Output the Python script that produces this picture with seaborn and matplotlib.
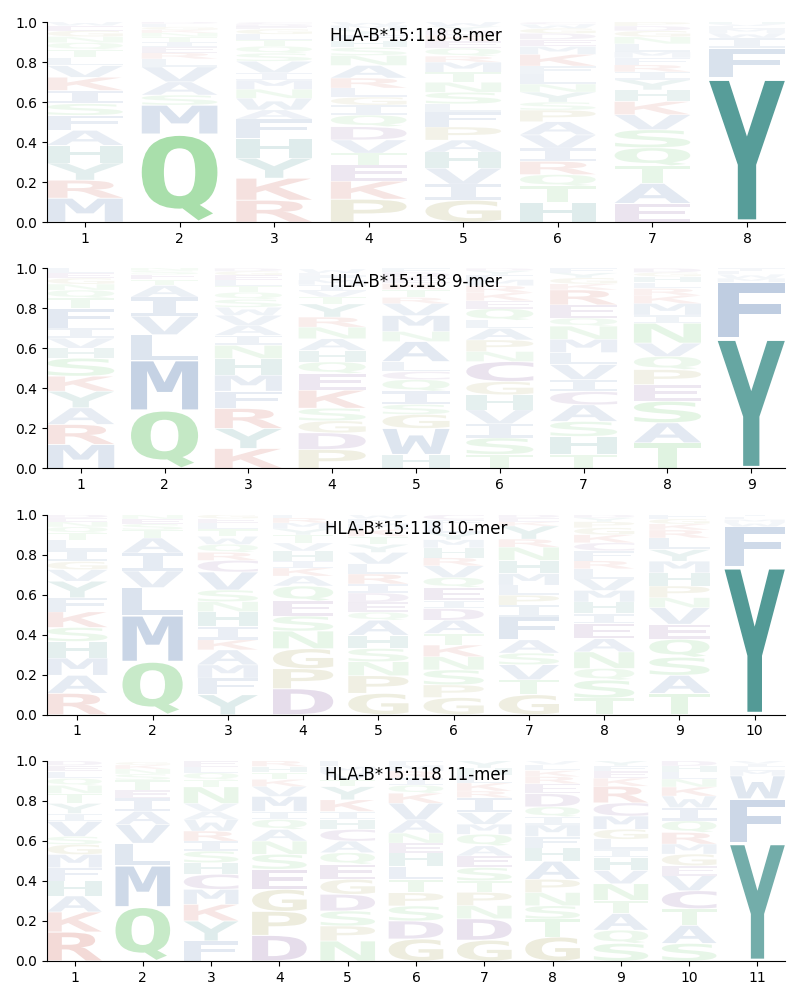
import numpy as np
import matplotlib
matplotlib.use("Agg")
import matplotlib.pyplot as plt
import seaborn as sns
from matplotlib.textpath import TextPath
from matplotlib.patches import PathPatch
from matplotlib.font_manager import FontProperties
from matplotlib.transforms import Affine2D

allele = "HLA-B*15:118"
lengths = [8, 9, 10, 11]

# letters listed bottom -> top for each position, heights in percent
letters_8 = ["MRYHAFSIKVLTQNGEW", "QMSAVLREITNKGFD", "RKYHFAWNMIVSQTLGEDC",
             "PKETVDQIGLRANSHFYMW", "GIVHAPFLSNTMRQEKDYW", "HTQRIVAPSYNLFKMEDGWC",
             "EATQSVKHYIRFMLNGDP", "YFIWMLVH"]
heights_8 = [[12, 9, 8.6, 8.8, 7.5, 7.5, 5.8, 6.6, 6.6, 5.8, 4, 4, 3.5, 3, 3, 2.5, 1.8],
             [44, 14.5, 5, 6.6, 7.5, 4, 3, 3, 2.5, 2.5, 2, 1.5, 1.5, 1.5, 1],
             [11, 11, 10, 10, 9.5, 4.6, 5.8, 4.5, 4.6, 3.6, 5.8, 4, 3.5, 3, 3, 2.5, 1.5, 1, 1],
             [11.5, 9, 8, 6, 6.6, 6.6, 5.8, 5, 4, 4.5, 5, 6.3, 5, 4, 3.5, 3, 2.5, 2, 1.7],
             [11, 8, 8, 8, 6, 6.6, 7.5, 4, 5.8, 5, 5, 5, 3, 4, 3.5, 3, 2.5, 2, 2.1],
             [10, 8, 5.8, 6.6, 6.6, 6.6, 6.6, 5.8, 4, 5, 4, 5, 4, 5.8, 4, 3.5, 3, 2.5, 2, 1.2],
             [9.4, 10, 8.8, 9, 9, 7.5, 6.6, 5.8, 5, 4, 3.5, 3.5, 3, 4, 3.5, 3, 2.4, 2],
             [72, 15, 5, 2.5, 2, 1.5, 1, 1]]

letters_9 = ["MRAYKSHVIFTQNGEL", "QMLVIATESN", "KYRFMHNIAVWSQTLEGD",
             "PDGSKEQHANRYTVIMFLW", "HWGSIQCLANMVRTKEDF", "TSIVHGCNPALQEKRMFYD",
             "THSACIVLMNQERKGYF", "TASEPQVNIMKRLHGD", "YFMWLI"]
heights_9 = [[12, 10, 8.3, 8.3, 7.5, 9, 5, 5, 5, 10, 5, 4, 3, 3, 2.5, 2.4],
             [29, 25, 12.8, 9.3, 9.5, 5.8, 3, 2.5, 2, 1.5],
             [10, 10, 10, 8.6, 8, 8.3, 6.6, 5, 5, 5, 4, 4, 3.5, 3, 3, 2.5, 2, 1.5],
             [9.5, 8.3, 6, 6.3, 9, 8.3, 5.8, 5.8, 5.8, 5.8, 5, 6.6, 3.5, 3, 3, 2.5, 2, 1.4, 2],
             [7, 13, 7, 5, 6.6, 5.8, 4, 5, 10, 5, 8, 6, 3, 4, 3, 3, 2.6, 2],
             [7, 8.3, 7, 7, 7.5, 6.6, 10, 5, 5.8, 5.8, 4, 5.8, 4, 4, 3.5, 3, 2.5, 2, 1.2],
             [7, 9, 7.5, 8.3, 6.6, 6, 7.5, 6, 6.6, 6.6, 4, 6.6, 7.5, 3, 3, 2.5, 2.3],
             [12.8, 10, 10.8, 8.3, 7.5, 6.6, 6.6, 10, 4, 5.8, 4, 3.5, 3, 3, 2, 2.1],
             [65, 28, 2, 2, 1.5, 1.5]]

letters_10 = ["RAMHSKFYVGILTQNED", "QMLVIATSEN", "YFMAKIHNSVCRQWTLEG",
              "DPGNSEQAKIHVTYMRF", "GPNSHAQEDIRLVYTKMFW", "GPSNKTADIEQVRHMYLFC",
              "GTVSAFIPLMHNRYKED", "TSQNAEIHMVLRFCKGPYD", "TASQEVNPHMYLRKGF", "YFWMLI"]
heights_10 = [[10.7, 9, 8.6, 8.3, 7, 7.8, 7, 8.3, 5.8, 4, 5.8, 5, 3.5, 3, 2.5, 2, 1.7],
              [26.5, 23, 14, 8.3, 9, 7.5, 4, 3, 2.5, 2],
              [10, 8.3, 6.6, 7.5, 5, 6.6, 7.5, 5, 5.8, 9, 5.8, 4, 4, 4, 3.5, 3, 2.4, 2],
              [13, 10, 10, 8.8, 7.5, 7.5, 7.5, 5, 4, 3.5, 5, 4, 4, 3, 3, 2.5, 1.7],
              [10.7, 8.8, 7, 6.6, 6.6, 7.5, 4, 5, 4.6, 4.5, 5, 5, 5.8, 4, 4, 3.5, 3, 2.4, 2],
              [8.6, 6.3, 7.5, 6.6, 5.8, 5.8, 6.6, 5.8, 4, 6.6, 5, 5.8, 4, 5, 4, 3.5, 3.5, 3, 2.6],
              [10, 7.5, 7.5, 5.8, 6.6, 11.5, 5.8, 5, 5, 5.8, 6.6, 6.6, 4, 6.6, 2, 2, 1.7],
              [8.3, 9, 5.8, 8.3, 6.6, 7.5, 5, 5.8, 5.8, 5.8, 5, 4, 5, 4, 4, 3.5, 3, 2, 1.6],
              [10.7, 9, 9, 9, 7.5, 8.3, 5, 5.8, 6.6, 5.8, 5.8, 5.8, 4, 3, 2.5, 2.2],
              [74, 20, 2, 1.5, 1.5, 1]]

letters_11 = ["RKAHFMGSVIYTNQLED", "QMLVAIETSNKG", "FYKMCHSIRWAVNTQLE",
              "DPGESNAQIMVKTHR", "NPSDGEQACHIKYTVML", "GDSPTLHENAVKQIRMF",
              "GDNPTSEAQMVIRKLHY", "GTSNPAHFMIQDERKLV", "SQATNVHILGMCRKEFY",
              "SATCVEGMRQIWKNLHD", "YFWMLIV"]
heights_11 = [[14.5, 10, 8, 7.5, 6.6, 6.6, 5, 4, 7.5, 4, 5, 5, 4, 3.5, 3.5, 3, 2.3],
              [27, 20.6, 11.2, 9.4, 6.6, 6.6, 4, 5, 3, 2.5, 2, 1.5],
              [10, 10, 8.3, 7.5, 7.5, 5.8, 5.8, 5, 5, 5.8, 4, 4, 8.3, 3.5, 3.5, 3, 3],
              [12.8, 12, 11, 10, 7.5, 6.6, 5.8, 5, 4, 7.5, 5, 3.5, 3.5, 3, 2.8],
              [10, 7.5, 7.5, 8.3, 7.5, 7.5, 5.8, 5.8, 5.8, 5, 4, 5.8, 6.6, 3.5, 3.5, 3, 2.9],
              [11, 9, 7.5, 6.6, 6.6, 6.6, 6.6, 5, 5, 6.6, 8.3, 5, 4, 3.5, 3.5, 3, 2.2],
              [10.4, 10.7, 6.6, 6.6, 5.8, 6.6, 5.8, 5, 5.8, 5, 5.8, 7.5, 3.3, 4, 4, 3.5, 3.6],
              [12, 9, 6.6, 6.6, 6.6, 9, 6.6, 5.8, 5.8, 4, 5, 6.6, 5, 3.5, 3, 3, 1.9],
              [8.8, 6.6, 8.3, 6.6, 8.3, 6.6, 6.6, 4, 5, 5, 6.6, 6.6, 8.3, 4, 3.5, 2.7, 2.5],
              [8.8, 9, 8.3, 9, 7.5, 5, 5.8, 5, 5.8, 5.8, 6.6, 5.8, 4.5, 4, 3.5, 3, 2.6],
              [59, 22, 11.5, 2.5, 2, 1.5, 1.5]]

panels = [(letters_8, heights_8), (letters_9, heights_9),
          (letters_10, heights_10), (letters_11, heights_11)]

# colour groups
group_colors = {
    "AVLIMFW": "#3a66a3",
    "YH": "#227e79",
    "QNST": "#4cbc50",
    "KR": "#c0392b",
    "DEC": "#6c3a8c",
    "PG": "#8f8a2c",
}
letter_color = {}
for grp, col in group_colors.items():
    for ch in grp:
        letter_color[ch] = col

sns.set_style("ticks")
plt.rcParams["font.family"] = ["DejaVu Sans"]
plt.rcParams.update({
    "text.color": "black",
    "axes.edgecolor": "black",
    "axes.labelcolor": "black",
    "xtick.color": "black",
    "ytick.color": "black",
    "axes.linewidth": 0.8,
    "xtick.major.width": 0.8,
    "ytick.major.width": 0.8,
    "xtick.major.size": 3.5,
    "ytick.major.size": 3.5,
})

fp = FontProperties(family="DejaVu Sans Mono", weight="bold")
_cache = {}


def glyph(ch):
    if ch not in _cache:
        _cache[ch] = TextPath((0, 0), ch, size=1, prop=fp)
    return _cache[ch]


def draw_letter(ax, ch, x, y0, h, width=0.8, vpad=0.04):
    p = glyph(ch)
    ext = p.get_extents()
    sx = width / ext.width
    sy = h * (1 - vpad) / ext.height
    tr = (Affine2D().translate(-ext.x0, -ext.y0).scale(sx, sy)
          .translate(x - width / 2, y0 + h * vpad / 2))
    alpha = min(1.0, h + 0.04)
    ax.add_patch(PathPatch(tr.transform_path(p), facecolor=letter_color[ch],
                           edgecolor="none", alpha=alpha, lw=0))


fig, axes = plt.subplots(4, 1, figsize=(8, 10), dpi=100)
fig.subplots_adjust(left=0.059, right=0.981, top=0.978, bottom=0.039, hspace=0.23)

for ax, n, (lets, hts) in zip(axes, lengths, panels):
    for pos, (ls, hs) in enumerate(zip(lets, hts), start=1):
        y = 0.0
        for ch, hv in zip(ls, hs):
            h = hv / 100.0
            draw_letter(ax, ch, pos, y, h)
            y += h
    ax.set_xlim(0.6, n + 0.4)
    ax.set_ylim(0, 1)
    ax.set_xticks(range(1, n + 1))
    ax.set_yticks(np.round(np.arange(0, 1.01, 0.2), 1))
    ax.tick_params(labelsize=10, colors="black")
    ax.text(0.5, 0.93, f"{allele} {n}-mer", transform=ax.transAxes,
            ha="center", va="center", fontsize=12, color="black")
    sns.despine(ax=ax)

fig.savefig("out.png", dpi=100)
